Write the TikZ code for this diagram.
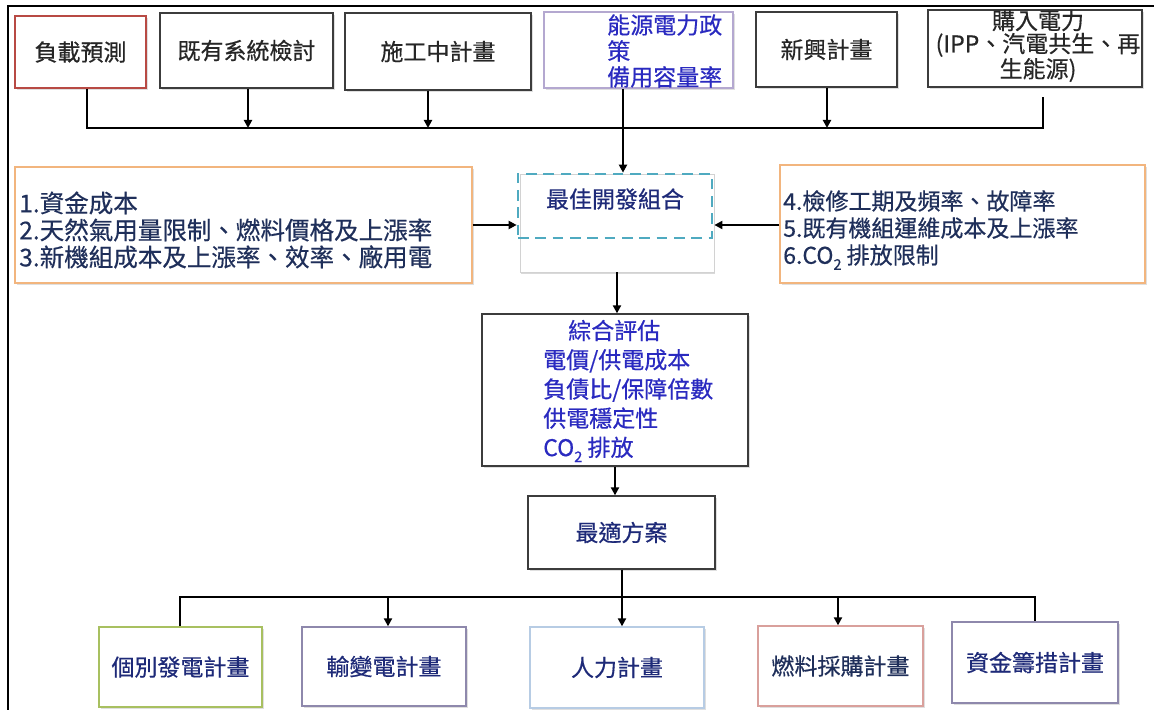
\documentclass[tikz,border=0pt]{standalone}
\usepackage{fontspec}
\setmainfont{Noto Sans CJK TC}
\newfontfamily\mfont{Noto Sans CJK TC}[FakeBold=0.5]
\usetikzlibrary{arrows.meta,shadows,fit}
\definecolor{boxgray}{HTML}{3C3C3C}
\definecolor{redb}{HTML}{B84A44}
\definecolor{lilac}{HTML}{B4A8D0}
\definecolor{teal}{HTML}{4FAAC0}
\definecolor{orangeb}{HTML}{F2B57E}
\definecolor{greenb}{HTML}{A8C060}
\definecolor{purpleb}{HTML}{8E88AC}
\definecolor{blueb}{HTML}{B7CCE4}
\definecolor{pinkb}{HTML}{D9A09C}
\definecolor{txtblk}{HTML}{262626}
\definecolor{txtblue}{HTML}{2A2AC0}
\definecolor{txtnavy}{HTML}{1E2A78}
\definecolor{txtdark}{HTML}{1F2F5A}
\newcommand\subtwo{\raisebox{-4.5pt}{\fontsize{11pt}{11pt}\selectfont 2}}
\begin{document}
\begin{tikzpicture}[x=0.75pt,y=-0.75pt,
  every node/.style={font=\mfont\fontsize{17.25pt}{20pt}\selectfont},
  box/.style={draw=#1, line width=1pt, fill=white, inner sep=0pt,
    drop shadow={opacity=0.25, shadow xshift=1.3pt, shadow yshift=-1.5pt}},
  box/.default=boxgray,
  lbl/.style={inner sep=0pt},
  conn/.style={line width=2pt, draw=black},
  arr/.style={conn, -{Triangle[length=6pt,width=6pt]}},
  multi/.style={align=left, inner sep=0pt, anchor=west}]
\useasboundingbox (0,0) rectangle (1154,710);
\draw[line width=1.2pt] (8,710) -- (8,6) -- (1154,6);

% top row
\node[box=redb, fit={(15,16) (146,88)}] (load) {};
\node[lbl, text=txtblk] (loadt) at (load.center) {負載預測};
\node[box, fit={(160,13) (333,88)}] (exist) {};
\node[lbl, text=txtblk] (existt) at (exist.center) {既有系統檢討};
\node[box, fit={(345,13) (531,90)}] (constr) {};
\node[lbl, text=txtblk] (constrt) at (constr.center) {施工中計畫};
\node[box=lilac, fit={(544,12) (733,88)}] (policy) {};
\node[multi, text=txtblue, font=\mfont\fontsize{17.25pt}{19.5pt}\selectfont] (policyt) at (607,51) {能源電力政\\策\\備用容量率};
\node[box, fit={(756,12) (897,87)}] (new) {};
\node[lbl, text=txtblk] (newt) at (new.center) {新興計畫};
\node[box, fit={(928,10) (1142,87)}] (buy) {};
\node[align=center, inner sep=0pt, text=txtblk, font=\mfont\fontsize{17.25pt}{17.25pt}\selectfont] (buyt) at (1038,46) {購入電力\\(IPP、汽電共生、再\\生能源)};

\coordinate (b1) at (87,128);
\coordinate (b2) at (248,128);
\coordinate (b3) at (428,128);
\coordinate (b4) at (623,128);
\coordinate (b5) at (827,128);
\coordinate (b6) at (1043,128);
\coordinate (buyend) at (1043,97);

% middle row
\node[box=orangeb, fit={(15,167) (472,283)}] (lbox) {};
\node[multi, text=txtdark, font=\mfont\fontsize{18.4pt}{20.25pt}\selectfont] (lboxt) at (19,230) {1.資金成本\\2.天然氣用量限制、燃料價格及上漲率\\3.新機組成本及上漲率、效率、廠用電};
\node[box=orangeb, fit={(780,165) (1145,283)}] (rbox) {};
\node[multi, text=txtdark, font=\mfont\fontsize{17.25pt}{20.25pt}\selectfont] (rboxt) at (783,230) {4.檢修工期及頻率、故障率\\5.既有機組運維成本及上漲率\\6.CO\subtwo{} 排放限制};

\node[draw=gray!35, line width=0.6pt, fill=white, inner sep=0pt, fit={(520,174) (714,272)},
  drop shadow={opacity=0.3, shadow xshift=1pt, shadow yshift=-1.8pt}] (bestbg) {};
\node[draw=teal, line width=2pt, dash pattern=on 8pt off 5pt, inner sep=0pt, fit={(518,174) (712,238)}] (best) {};
\node[lbl, text=txtnavy] (bestt) at (615,199) {最佳開發組合};

\coordinate (ly) at (0,225);

\node[box, fit={(482,314) (748,466)}] (eval) {};
\node[multi, text=txtblue, font=\mfont\fontsize{17.25pt}{21.9pt}\selectfont] (evalt) at (543,391) {\hspace*{18.75pt}綜合評估\\電價/供電成本\\負債比/保障倍數\\供電穩定性\\CO\subtwo{} 排放};

\node[box, fit={(528,496) (715,569)}] (opt) {};
\node[lbl, text=txtnavy] (optt) at (opt.center) {最適方案};

% bottom row
\node[box=greenb, fit={(99,627) (262,707)}] (p1) {};
\node[lbl, text=txtnavy] (p1t) at (p1.center) {個別發電計畫};
\node[box=purpleb, fit={(302,627) (466,706)}] (p2) {};
\node[lbl, text=txtnavy] (p2t) at (p2.center) {輸變電計畫};
\node[box=blueb, fit={(530,627) (704,708)}] (p3) {};
\node[lbl, text=txtnavy] (p3t) at (p3.center) {人力計畫};
\node[box=pinkb, fit={(758,626) (923,706)}] (p4) {};
\node[lbl, text=txtdark] (p4t) at (p4.center) {燃料採購計畫};
\node[box=purpleb, fit={(952,622) (1118,703)}] (p5) {};
\node[lbl, text=txtnavy] (p5t) at (p5.center) {資金籌措計畫};

\coordinate (d1) at (180,597);
\coordinate (d2) at (388,597);
\coordinate (d3) at (622,597);
\coordinate (d4) at (838,597);
\coordinate (d5) at (1035,597);

% connectors
\draw[conn] (load.south -| b1) -- (b1) -- (b6) -- (buyend);
\draw[arr] (exist.south -| b2) -- (b2);
\draw[arr] (constr.south -| b3) -- (b3);
\draw[arr] (new.south -| b5) -- (b5);
\draw[arr] (policy.south -| b4) -- (b4 |- best.north);
\draw[arr] (lbox.east |- ly) -- (best.west |- ly);
\draw[arr] (rbox.west |- ly) -- (bestbg.east |- ly);
\draw[arr] (bestbg.south) -- (bestbg.south |- eval.north);
\draw[arr] (eval.south) -- (eval.south |- opt.north);
\draw[arr] (opt.south -| d3) -- (d3 |- p3.north);
\draw[conn] (p1.north -| d1) -- (d1) -- (d5) -- (p5.north -| d5);
\draw[arr] (d2) -- (d2 |- p2.north);
\draw[arr] (d4) -- (d4 |- p4.north);
\end{tikzpicture}
\end{document}
